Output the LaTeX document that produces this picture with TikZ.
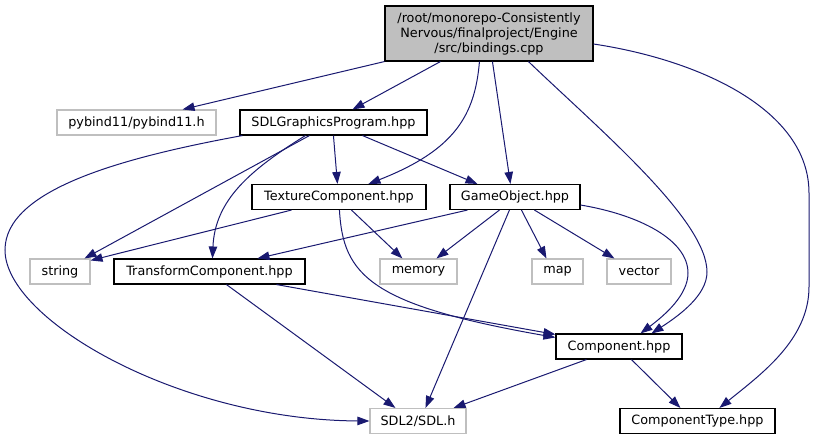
\documentclass[tikz,border=0pt]{standalone}
\usepackage{fontspec}
\setmainfont{DejaVu Sans}
\usetikzlibrary{arrows.meta}
\definecolor{edgeblue}{HTML}{191970}
\definecolor{extgray}{HTML}{BFBFBF}
\begin{document}
\begin{tikzpicture}[
      x=1pt, y=-1pt,
      font=\fontsize{12.8}{15}\selectfont,
      file/.style={
        draw=black, line width=1.1pt, inner sep=0pt,
        minimum height=25pt, align=center
      },
      extfile/.style={
        file, draw=extgray
      },
      root/.style={
        file, fill=extgray, minimum height=55pt
      },
      dep/.style={
        draw=edgeblue, line width=1pt,
        -{Triangle[length=12pt,width=8.5pt]}
      }
    ]
    \useasboundingbox (0,0) rectangle (815,440);

    \node[root, minimum width=208pt] (bindings) at (489,33.5) {/root/monorepo-Consistently\\
      Nervous/finalproject/Engine\\/src/bindings.cpp};

    \node[extfile, minimum width=159pt] (pybind) at (136.5,122.5) {pybind11/pybind11.h};
    \node[file, minimum width=187pt] (sdlgp) at (333.5,122.5) {SDLGraphicsProgram.hpp};
    \node[file, minimum width=174pt] (texture) at (339,197) {TextureComponent.hpp};
    \node[file, minimum width=130pt] (gameobj) at (515,197) {GameObject.hpp};
    \node[extfile, minimum width=60pt] (string) at (60,271.5) {string};
    \node[file, minimum width=191pt] (transform) at (209.5,271.5) {TransformComponent.hpp};
    \node[extfile, minimum width=77pt] (memory) at (418.5,271.5) {memory};
    \node[extfile, minimum width=51pt] (map) at (557.5,271.5) {map};
    \node[extfile, minimum width=64pt] (vector) at (639,271.5) {vector};
    \node[file, minimum width=126pt] (component) at (619,346.5) {Component.hpp};
    \node[extfile, minimum width=96pt] (sdl) at (418,421) {SDL2/SDL.h};
    \node[file, minimum width=155pt] (comptype) at (697.5,421) {ComponentType.hpp};

    \draw[dep] (bindings.south west) -- ([xshift=-34pt]pybind.north east);
    \draw[dep] ([xshift=56pt]bindings.south west) -- ([xshift=113pt]sdlgp.north west);
    \draw[dep] ([xshift=95pt]bindings.south west) .. controls (475,115) and (455,150) .. ([xshift=117pt]texture.north west);
    \draw[dep] ([xshift=108pt]bindings.south west) -- ([xshift=61pt]gameobj.north west);
    \draw[dep] ([xshift=144pt]bindings.south west) .. controls (600,130) and (707,220) .. (707,272)
      .. controls (707,295) and (680,315) .. ([xshift=96pt]component.north west);
    \draw[dep] ([yshift=-10.5pt]bindings.east) .. controls (700,60) and (809,110) .. (809,193) -- (809,287)
      .. controls (809,340) and (760,375) .. ([xshift=100pt]comptype.north west);

    \draw[dep] ([xshift=3pt]sdlgp.south west) .. controls (120,158) and (5,190) .. (5,250)
      .. controls (5,320) and (180,420) .. (sdl.west);
    \draw[dep] ([xshift=70pt]sdlgp.south west) -- ([xshift=55pt]string.north west);
    \draw[dep] ([xshift=66pt]sdlgp.south west) .. controls (250,170) and (215,200) .. ([xshift=99pt]transform.north west);
    \draw[dep] ([xshift=94pt]sdlgp.south west) -- ([xshift=86pt]texture.north west);
    \draw[dep] ([xshift=123pt]sdlgp.south west) -- ([xshift=28pt]gameobj.north west);

    \draw[dep] ([xshift=40pt]texture.south west) -- ([yshift=-2pt]string.north east);
    \draw[dep] ([xshift=100pt]texture.south west) -- ([xshift=23pt]memory.north west);
    \draw[dep] ([xshift=88pt]texture.south west) .. controls (343,275) and (370,305) .. ([yshift=-4pt]component.north west);

    \draw[dep] ([xshift=18pt]gameobj.south west) -- ([xshift=144pt]transform.north west);
    \draw[dep] ([xshift=50pt]gameobj.south west) -- ([xshift=57pt]memory.north west);
    \draw[dep] ([xshift=60pt]gameobj.south west) -- ([xshift=56pt]sdl.north west);
    \draw[dep] ([xshift=72pt]gameobj.south west) -- ([xshift=15pt]map.north west);
    \draw[dep] ([xshift=85pt]gameobj.south west) -- ([xshift=8pt]vector.north west);
    \draw[dep] ([yshift=-8pt]gameobj.east) .. controls (640,215) and (688,240) .. (688,273)
      .. controls (688,295) and (665,315) .. ([xshift=85pt]component.north west);

    \draw[dep] ([xshift=113pt]transform.south west) -- ([xshift=26pt]sdl.north west);
    \draw[dep] ([xshift=163pt]transform.south west) -- ([yshift=-1pt]component.north west);

    \draw[dep] ([xshift=31pt]component.south west) -- ([xshift=-13pt]sdl.north east);
    \draw[dep] ([xshift=76pt]component.south west) -- ([xshift=61pt]comptype.north west);
  \end{tikzpicture}
\end{document}
